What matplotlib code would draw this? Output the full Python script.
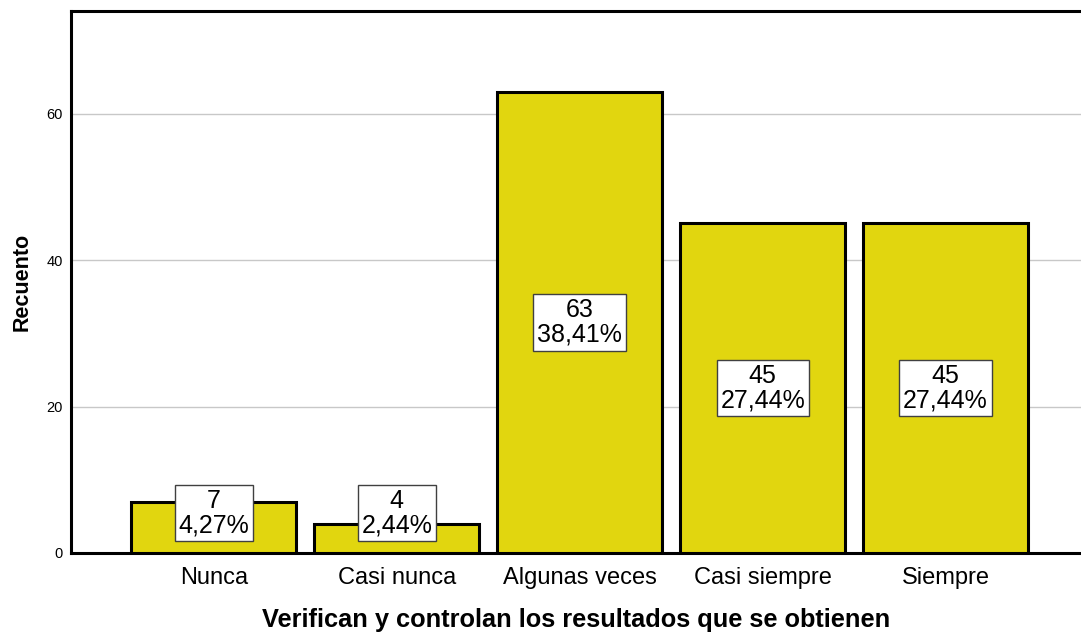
import matplotlib
matplotlib.use("Agg")
import matplotlib.pyplot as plt

plt.rcParams['font.family'] = ['Liberation Sans', 'DejaVu Sans']

categories = ["Nunca", "Casi nunca", "Algunas veces", "Casi siempre", "Siempre"]
counts = [7, 4, 63, 45, 45]
percents = ["4,27%", "2,44%", "38,41%", "27,44%", "27,44%"]
yticks = [0, 20, 40, 60]

fig = plt.figure(figsize=(10.81, 6.36), dpi=100)
ax = fig.add_axes([71/1081, 83/636, 1 - 71/1081, (553-11)/636])

x = list(range(len(categories)))
ax.bar(x, counts, width=0.9, color="#E1D60F", edgecolor="black", linewidth=2.2, zorder=3)

ax.set_xlim(-0.78, 4.74)
ax.set_ylim(0, 74)
ax.set_yticks(yticks)
ax.set_yticklabels([str(t) for t in yticks], fontsize=10.5)
ax.yaxis.grid(True, color="#C8C8C8", linewidth=1.0, zorder=0)
ax.set_axisbelow(True)
ax.tick_params(axis="y", length=0, pad=6)
ax.tick_params(axis="x", length=0, pad=10)
ax.set_xticks(x)
ax.set_xticklabels(categories, fontsize=17)

for s in ["left", "top", "bottom"]:
    ax.spines[s].set_linewidth(2.2)
    ax.spines[s].set_color("black")
ax.spines["right"].set_visible(False)

for xi, c, p in zip(x, counts, percents):
    yc = max(c / 2, 5.45)
    ax.text(xi, yc, f"{c}\n{p}", ha="center", va="center", fontsize=18,
            linespacing=1.05, zorder=5,
            bbox=dict(boxstyle="square,pad=0.15", facecolor="white",
                      edgecolor="#404040", linewidth=1.0))

ax.set_ylabel("Recuento", fontsize=15.5, fontweight="bold", labelpad=10)
ax.set_xlabel("Verifican y controlan los resultados que se obtienen",
              fontsize=18.3, fontweight="bold", labelpad=14)

fig.savefig("out.png", dpi=100)
